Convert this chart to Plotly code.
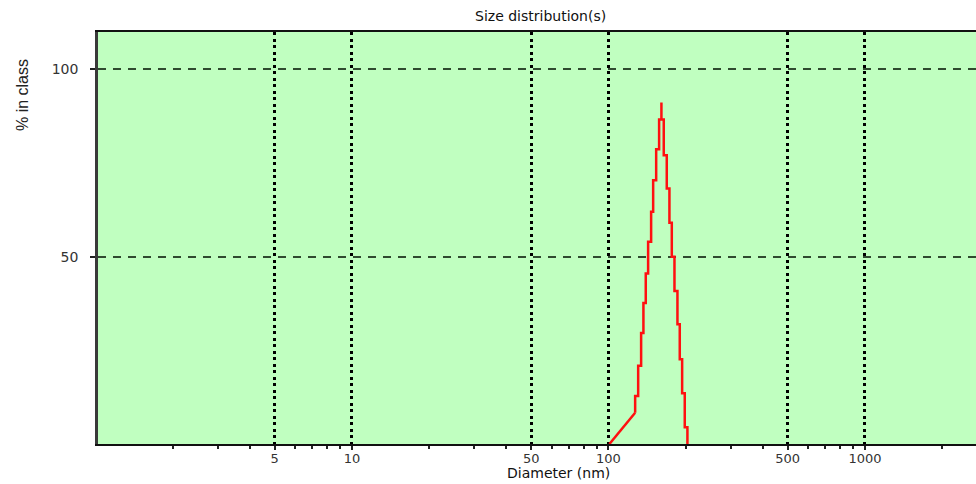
import plotly.graph_objects as go

# ---- data ----
title_text = "Size distribution(s)"
x_title = "Diameter (nm)"
y_title = "% in class"

major_ticks = [5, 10, 50, 100, 500, 1000]
major_labels = ["5", "10", "50", "100", "500", "1000"]
minor_ticks = [2, 3, 4, 6, 7, 8, 9, 20, 30, 40, 60, 70, 80, 90,
               200, 300, 400, 600, 700, 800, 900, 2000]
y_ticks = [50, 100]

# rising foot of the distribution (straight segment)
foot_diam = [100.9, 127.1]
foot_pct = [0.0, 8.35]

# stepped part of the distribution (drawn with 'hv' steps)
step_diam = [127.1, 127.1, 130.6, 134.1, 136.9, 139.8, 142.8, 146.7, 149.4,
             153.5, 157.6, 160.9, 160.9, 164.3, 168.8, 172.9, 176.6, 180.9,
             185.8, 189.7, 193.8, 198.4, 203.2]
step_pct = [8.35, 12.81, 20.89, 29.62, 37.62, 45.54, 53.98, 61.98, 70.44,
            78.71, 86.63, 91.17, 86.63, 77.11, 68.22, 59.05, 49.97, 40.82,
            31.94, 22.60, 13.53, 4.46, 0.0]

FONT = "DejaVu Sans"

fig = go.Figure()
fig.add_trace(go.Scatter(x=foot_diam, y=foot_pct, mode="lines",
                         line=dict(color="#ff1010", width=2.5),
                         showlegend=False, hoverinfo="skip"))
fig.add_trace(go.Scatter(x=step_diam, y=step_pct, mode="lines",
                         line=dict(color="#ff1010", width=2.5, shape="hv"),
                         showlegend=False, hoverinfo="skip"))

fig.update_layout(
    width=976, height=484,
    margin=dict(l=98, r=0, t=32, b=40),
    paper_bgcolor="white",
    plot_bgcolor="#c0ffc0",
    showlegend=False,
    font=dict(family=FONT, size=12, color="#222222"),
    xaxis=dict(
        type="log",
        range=[0.01, 3.433],
        tickmode="array",
        tickvals=major_ticks,
        ticktext=major_labels,
        ticks="outside", ticklen=4, tickwidth=2, tickcolor="#222222",
        ticklabelstandoff=-2,
        showgrid=True, gridcolor="#000000", gridwidth=2.5, griddash="3px,3.5px",
        minor=dict(tickmode="array", tickvals=minor_ticks, ticks="outside",
                   ticklen=3, tickwidth=2, tickcolor="#222222", showgrid=False),
        showline=True, linecolor="#111111", linewidth=1.5, mirror=True,
        zeroline=False,
        tickfont=dict(family=FONT, size=13, color="#333333"),
    ),
    yaxis=dict(
        range=[0, 110],
        tickmode="array",
        tickvals=y_ticks,
        ticktext=[str(v) for v in y_ticks],
        ticks="outside", ticklen=5, tickwidth=1.5, tickcolor="#222222",
        ticklabelstandoff=9,
        showgrid=True, gridcolor="#2f4a2f", gridwidth=1.5, griddash="8px,7px",
        showline=True, linecolor="#3a3a3a", linewidth=2.5, mirror=False,
        zeroline=False,
        tickfont=dict(family=FONT, size=14, color="#333333"),
    ),
    annotations=[
        dict(text=title_text, xref="paper", yref="paper",
             x=(540 - 98) / 878, y=(444 - 16) / 412,
             xanchor="center", yanchor="middle", showarrow=False,
             font=dict(family=FONT, size=14, color="#111111")),
        dict(text=x_title, xref="paper", yref="paper",
             x=(558 - 98) / 878, y=(444 - 473) / 412,
             xanchor="center", yanchor="middle", showarrow=False,
             font=dict(family=FONT, size=14, color="#111111")),
        dict(text=y_title, xref="paper", yref="paper",
             x=(22 - 98) / 878, y=(444 - 95) / 412,
             xanchor="center", yanchor="middle", showarrow=False,
             textangle=-90,
             font=dict(family="Liberation Sans Narrow, Liberation Sans, sans-serif",
                       size=16, color="#222222")),
    ],
)

fig.write_html("out.html")
